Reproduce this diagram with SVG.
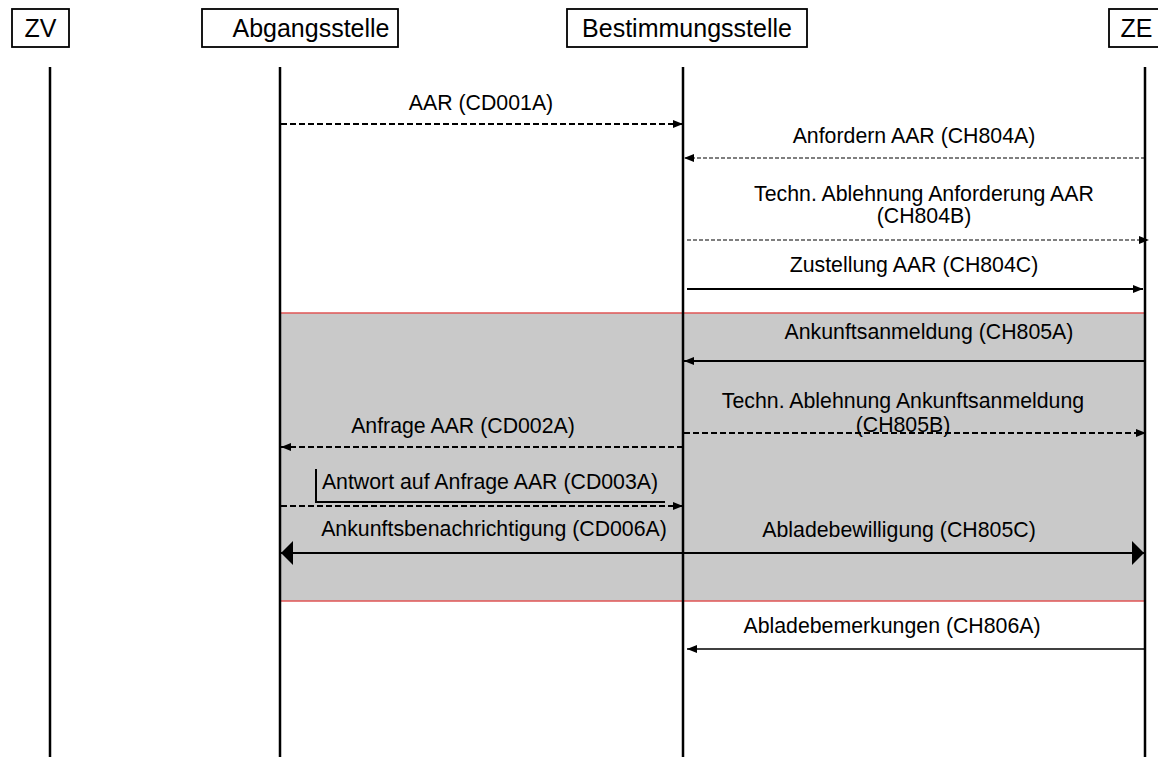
<svg xmlns="http://www.w3.org/2000/svg" width="1158" height="757" viewBox="0 0 1158 757">
<style>
.hdr{fill:#fff;stroke:#000;stroke-width:1.8}
.ht{font-family:"Liberation Sans",Arial,sans-serif;font-size:25px;fill:#000}
.lbl{font-family:"Liberation Sans",Arial,sans-serif;font-size:21.3px;fill:#000}
.life{stroke:#000;stroke-width:2.5;fill:none}
.msg{stroke:#000;fill:none}
.d1{stroke-width:1.8;stroke-dasharray:6,3}
.d2{stroke-width:1.1;stroke-dasharray:4,2}
.s1{stroke-width:2}
</style>
<defs>
<marker id="ah" markerUnits="userSpaceOnUse" markerWidth="10" markerHeight="8" refX="10" refY="4" orient="auto"><path d="M0,0 L10,4 L0,8 Z" fill="#000"/></marker>
<marker id="big" markerUnits="userSpaceOnUse" markerWidth="12" markerHeight="24" refX="12" refY="12" orient="auto-start-reverse"><path d="M0,0 L12,12 L0,24 Z" fill="#000"/></marker>
</defs>
<rect x="0" y="0" width="1158" height="757" fill="#fff"/>
<g id="fragment">
<rect x="280" y="313" width="865" height="288" fill="#c9c9c9" stroke="#e05555" stroke-width="1.5"/>
</g>
<g id="ZV">
<rect class="hdr" x="12" y="9" width="57" height="38"/>
<text class="ht" x="40.5" y="37" text-anchor="middle">ZV</text>
<line class="life" x1="50" y1="67" x2="50" y2="757"/>
</g>
<g id="Abgangsstelle">
<rect class="hdr" x="202" y="9" width="196" height="38"/>
<text class="ht" x="311" y="37" text-anchor="middle">Abgangsstelle</text>
<line class="life" x1="280" y1="67" x2="280" y2="757"/>
</g>
<g id="Bestimmungsstelle">
<rect class="hdr" x="567" y="9" width="240" height="38"/>
<text class="ht" x="687" y="37" text-anchor="middle">Bestimmungsstelle</text>
<line class="life" x1="683" y1="67" x2="683" y2="757"/>
</g>
<g id="ZE">
<rect class="hdr" x="1109" y="9" width="60" height="38"/>
<text class="ht" x="1136.5" y="37" text-anchor="middle">ZE</text>
<line class="life" x1="1145" y1="67" x2="1145" y2="757"/>
</g>
<g id="connectors">
<line class="msg d1" x1="281" y1="124" x2="683" y2="124" marker-end="url(#ah)"/>
<line class="msg d2" x1="1145" y1="158" x2="684" y2="158" marker-end="url(#ah)"/>
<line class="msg d2" x1="687" y1="240" x2="1149" y2="240" marker-end="url(#ah)"/>
<line class="msg s1" x1="687" y1="289" x2="1143" y2="289" marker-end="url(#ah)"/>
<line class="msg s1" x1="1145" y1="361" x2="684" y2="361" marker-end="url(#ah)"/>
<line class="msg d1" x1="684" y1="433" x2="1146" y2="433" marker-end="url(#ah)"/>
<line class="msg d1" x1="683" y1="447" x2="281" y2="447" marker-end="url(#ah)"/>
<path class="msg" d="M316,469 L316,502 L665,502" stroke-width="2"/>
<line class="msg d1" x1="281" y1="506" x2="683" y2="506" marker-end="url(#ah)"/>
<line class="msg s1" x1="281" y1="553" x2="1144" y2="553" marker-start="url(#big)" marker-end="url(#big)"/>
<line class="msg" stroke-width="1.6" x1="1145" y1="649" x2="687" y2="649" marker-end="url(#ah)"/>
</g>
<g id="labels">
<text class="lbl" x="481" y="110" text-anchor="middle">AAR (CD001A)</text>
<text class="lbl" x="914" y="143" text-anchor="middle">Anfordern AAR (CH804A)</text>
<text class="lbl" x="924" y="201" text-anchor="middle">Techn. Ablehnung Anforderung AAR</text>
<text class="lbl" x="924" y="223" text-anchor="middle">(CH804B)</text>
<text class="lbl" x="914" y="272" text-anchor="middle">Zustellung AAR (CH804C)</text>
<text class="lbl" x="929" y="339" text-anchor="middle">Ankunftsanmeldung (CH805A)</text>
<text class="lbl" x="903" y="408" text-anchor="middle">Techn. Ablehnung Ankunftsanmeldung</text>
<text class="lbl" x="903" y="432" text-anchor="middle">(CH805B)</text>
<text class="lbl" x="463" y="433" text-anchor="middle">Anfrage AAR (CD002A)</text>
<text class="lbl" x="490" y="489" text-anchor="middle">Antwort auf Anfrage AAR (CD003A)</text>
<text class="lbl" x="494" y="536" text-anchor="middle">Ankunftsbenachrichtigung (CD006A)</text>
<text class="lbl" x="899" y="537" text-anchor="middle">Abladebewilligung (CH805C)</text>
<text class="lbl" x="892" y="633" text-anchor="middle">Abladebemerkungen (CH806A)</text>
</g>
</svg>
